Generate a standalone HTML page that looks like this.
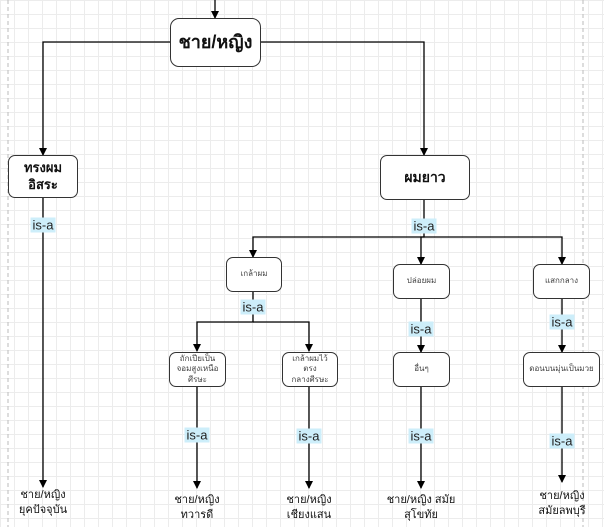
<!DOCTYPE html><html><head><meta charset="utf-8"><style>
body{margin:0;width:604px;height:527px;overflow:hidden;background:#fff;
background-image:linear-gradient(#ececec 1px,transparent 1px),linear-gradient(90deg,#ececec 1px,transparent 1px);background-size:14px 14px;font-family:"Liberation Sans","Noto Sans CJK SC",sans-serif;position:relative}
.b{position:absolute;border:1.5px solid #333;border-radius:7px;background:#fff;display:flex;align-items:center;justify-content:center;text-align:center;box-sizing:border-box;font-size:8px;color:#444;line-height:1.3}
.t{position:absolute;text-align:center;font-size:11px;color:#111;line-height:1.4;transform:translateX(-50%);white-space:nowrap}
.i{position:absolute;background:#cdeefa;font-size:13px;color:#222;padding:0 2px;transform:translate(-50%,-50%);line-height:15px}
</style></head><body>
<svg width="604" height="527" style="position:absolute;left:0;top:0">
<defs><marker id="a" markerWidth="8" markerHeight="8" refX="7" refY="4" orient="auto" markerUnits="userSpaceOnUse"><path d="M0,0L8,4L0,8z" fill="#000"/></marker></defs>
<g stroke="#bbb" stroke-dasharray="4,3"><line x1="8" y1="0" x2="8" y2="527"/><line x1="583" y1="0" x2="583" y2="527"/></g>
<g stroke="#000" stroke-width="1.3" fill="none" marker-end="url(#a)">
<path d="M215 0V18"/>
<path d="M170 42H43V155"/>
<path d="M261 42H424V155"/>
<path d="M43 198V487"/>
<path d="M424 200V237H253V257"/>
<path d="M424 237H421V264"/>
<path d="M424 237H562V264"/>
<path d="M253 292V322H197V351"/>
<path d="M253 322H309V351"/>
<path d="M421 299V352"/>
<path d="M562 299V352"/>
<path d="M197 387V488"/>
<path d="M309 387V488"/>
<path d="M421 387V488"/>
<path d="M562 387V482"/>
</g></svg>
<div class="b" style="left:170px;top:18px;width:91px;height:49px;font-size:18px;font-weight:bold;color:#111;border-radius:9px">ชาย/หญิง</div>
<div class="b" style="left:8px;top:155px;width:70px;height:43px;font-size:13px;font-weight:bold;color:#111">ทรงผม<br>อิสระ</div>
<div class="b" style="left:380px;top:155px;width:90px;height:45px;font-size:14px;font-weight:bold;color:#111">ผมยาว</div>
<div class="b" style="left:226px;top:257px;width:56px;height:35px">เกล้าผม</div>
<div class="b" style="left:393px;top:264px;width:57px;height:35px">ปล่อยผม</div>
<div class="b" style="left:533px;top:264px;width:57px;height:35px">แสกกลาง</div>
<div class="b" style="left:169px;top:352px;width:57px;height:35px">ถักเปียเป็น<br>จอมสูงเหนือ<br>ศีรษะ</div>
<div class="b" style="left:282px;top:352px;width:56px;height:35px">เกล้าผมไว้<br>ตรง<br>กลางศีรษะ</div>
<div class="b" style="left:393px;top:352px;width:57px;height:35px">อื่นๆ</div>
<div class="b" style="left:523px;top:352px;width:77px;height:35px">ดอนบนมุ่นเป็นมวย</div>
<div class="i" style="left:43px;top:225px">is-a</div>
<div class="i" style="left:424px;top:226px">is-a</div>
<div class="i" style="left:253px;top:307px">is-a</div>
<div class="i" style="left:421px;top:329px">is-a</div>
<div class="i" style="left:562px;top:322px">is-a</div>
<div class="i" style="left:197px;top:435px">is-a</div>
<div class="i" style="left:309px;top:436px">is-a</div>
<div class="i" style="left:421px;top:436px">is-a</div>
<div class="i" style="left:562px;top:441px">is-a</div>
<div class="t" style="left:43px;top:488px">ชาย/หญิง<br>ยุคปัจจุบัน</div>
<div class="t" style="left:197px;top:493px">ชาย/หญิง<br>ทวารดี</div>
<div class="t" style="left:309px;top:493px">ชาย/หญิง<br>เชียงแสน</div>
<div class="t" style="left:421px;top:493px">ชาย/หญิง สมัย<br>สุโขทัย</div>
<div class="t" style="left:562px;top:489px">ชาย/หญิง<br>สมัยลพบุรี</div>
</body></html>
